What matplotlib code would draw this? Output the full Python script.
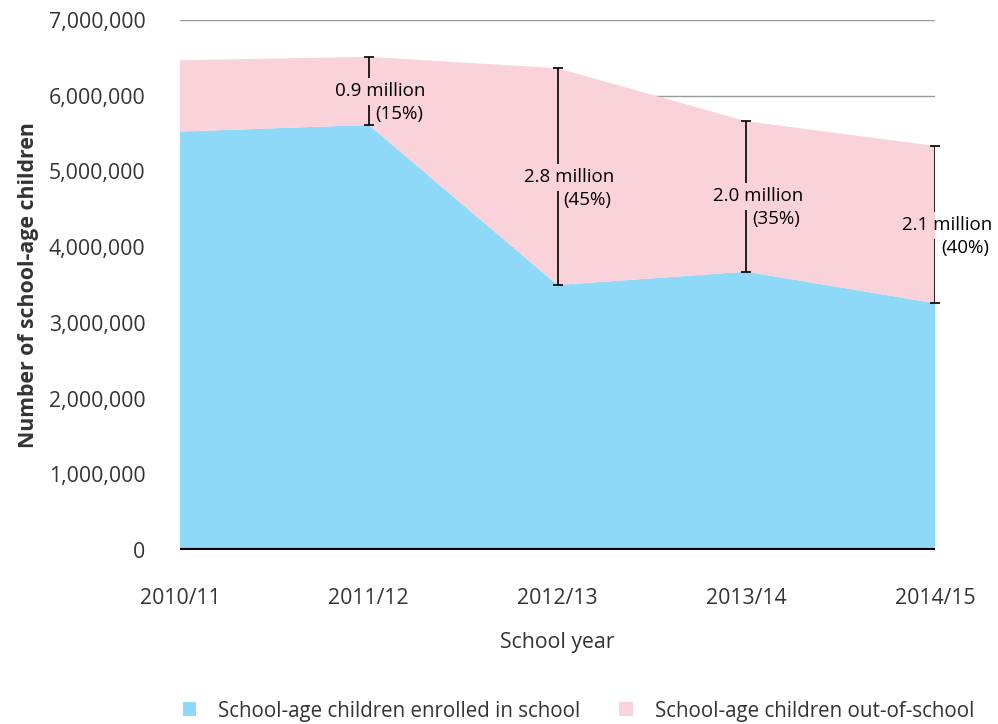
import matplotlib
matplotlib.use('Agg')
import matplotlib.pyplot as plt
import numpy as np
from matplotlib.patches import Patch

plt.rcParams['font.family'] = ['Open Sans', 'DejaVu Sans']

# data
school_years = ['2010/11', '2011/12', '2012/13', '2013/14', '2014/15']
enrolled = [5526000, 5614000, 3500000, 3676000, 3259000]
out_of_school = [943000, 899000, 2863000, 1987000, 2078000]
gap_labels = ['', '0.9 million', '2.8 million', '2.0 million', '2.1 million']
gap_pcts = ['', '(15%)', '(45%)', '(35%)', '(40%)']

blue = '#8ed8f8'
pink = '#f9d3d9'
text_col = '#333333'
fs = 15.3      # axis text
fs_leg = 14.8  # legend
fs_note = 13.5 # gap labels

fig = plt.figure(figsize=(9.98, 7.24), dpi=100)
ax = fig.add_axes([180/998, 174/724, 755/998, 530/724])

x = np.arange(len(school_years))
ax.stackplot(x, enrolled, out_of_school, colors=[blue, pink], zorder=2)

# baseline
ax.axhline(0, color='black', linewidth=3, zorder=3)

ax.set_xlim(0, len(school_years) - 1)
ax.set_ylim(0, 7000000)
ax.set_yticks(np.arange(0, 7000001, 1000000))
ax.set_yticklabels(['{:,}'.format(v) for v in range(0, 7000001, 1000000)])
ax.set_xticks(x)
ax.set_xticklabels(school_years)
ax.yaxis.grid(True, color='#9a9a9a', linewidth=1.0)
ax.set_axisbelow(True)
for s in ax.spines.values():
    s.set_visible(False)
ax.tick_params(axis='both', length=0, labelsize=fs, colors=text_col)
ax.tick_params(axis='y', pad=25)
ax.tick_params(axis='x', pad=27)

ax.set_xlabel('School year', fontsize=fs, color=text_col, labelpad=17)
ax.set_ylabel('Number of school-age children', fontsize=fs, fontweight='bold',
              color=text_col, labelpad=7)

# out-of-school gap markers, line broken where the label crosses it
px = 7000000 / 530.0
for i in range(1, len(school_years)):
    lo = enrolled[i]
    hi = enrolled[i] + out_of_school[i]
    mid = (lo + hi) / 2
    ax.vlines(i, mid + 13 * px, hi, color='black', linewidth=1.2, zorder=4)
    ax.vlines(i, lo, mid - 14 * px, color='black', linewidth=1.2, zorder=4)
    ax.plot([i, i], [lo, hi], linestyle='none', marker='_', markersize=7,
            markeredgewidth=1.2, color='black', zorder=4, clip_on=False)
    ax.annotate(gap_labels[i], (i, mid), xytext=(57 * 0.72, 0),
                textcoords='offset points', ha='right', va='center',
                fontsize=fs_note, color='black', zorder=5, annotation_clip=False)
    ax.annotate(gap_pcts[i], (i, mid), xytext=(6 * 0.72, -23 * 0.72),
                textcoords='offset points', ha='left', va='center',
                fontsize=fs_note, color='black', zorder=5, annotation_clip=False)

handles = [Patch(facecolor=blue, edgecolor='none'),
           Patch(facecolor=pink, edgecolor='none')]
fig.legend(handles, ['School-age children enrolled in school',
                     'School-age children out-of-school'],
           loc='center left', bbox_to_anchor=(164/998, 13/724), ncol=2,
           frameon=False, fontsize=fs_leg, handlelength=0.68, handleheight=0.68,
           handletextpad=1.05, columnspacing=1.9, labelcolor=text_col)

fig.savefig('out.png', dpi=100)
